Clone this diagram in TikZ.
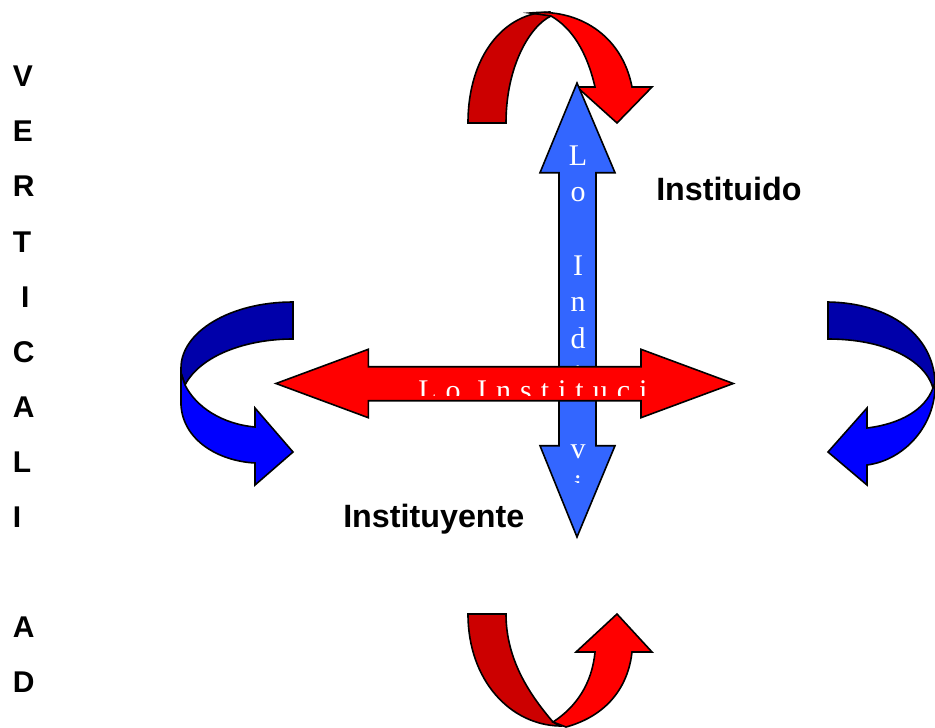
\documentclass[tikz,border=0pt]{standalone}
\usepackage{fontspec}
\setmainfont{Liberation Serif}
\setsansfont{Liberation Sans}
\newfontfamily\spacedserif[LetterSpace=30]{Liberation Serif}
\usepackage{tikz}

\definecolor{darkred}{HTML}{CC0000}
\definecolor{brightred}{HTML}{FF0000}
\definecolor{arrowblue}{HTML}{3366FF}
\definecolor{darkblue}{HTML}{0000AA}
\definecolor{brightblue}{HTML}{0000FF}

\begin{document}
\begin{tikzpicture}[x=0.75pt, y=-0.75pt,
    band/.style={draw=black, line width=1.2pt, line join=miter},
    letter/.style={anchor=base west, inner sep=0pt, font=\fontsize{22.5}{27}\sffamily\bfseries},
    caption/.style={anchor=base west, inner sep=0pt, font=\fontsize{24.2}{29}\sffamily\bfseries},
    inword/.style={anchor=base, inner sep=0pt, text=white, font=\fontsize{22.5}{27}\selectfont}]
    \useasboundingbox (0,0) rectangle (935,728);

    % Side word
    \foreach \ch/\k in {V/0,E/1,R/2,T/3,~I/4,C/5,A/6,L/7,I/8,A/10,D/11}
        \node[letter] (side\k) at (12.5, 86.7+55.1*\k) {\ch};

    % Top curved arrow
    \draw[band, fill=darkred] (468,123) .. controls (468,55) and (505,12) .. (550,12)
        -- (551,16) .. controls (530,26) and (506,66) .. (506,123) -- cycle;
    \draw[band, fill=brightred] (530,13) .. controls (578,8) and (622,35) .. (632,87)
        -- (652,87) -- (617,123) -- (577,87) -- (595,87)
        .. controls (587,52) and (572,28) .. (551,16) -- cycle;

    % Bottom curved arrow
    \draw[band, fill=darkred] (468,614) .. controls (468,680) and (510,725) .. (560,726)
        -- (553,722) .. controls (530,695) and (506,660) .. (506,614) -- cycle;
    \draw[band, fill=brightred] (553,722) -- (566,727) .. controls (606,716) and (628,688) .. (632,652)
        -- (652,652) -- (617,614) -- (576,652) -- (595,652)
        .. controls (592,684) and (576,707) .. (553,722) -- cycle;

    % Left curved arrow
    \draw[band, fill=darkblue] (293,302) .. controls (230,302) and (181,332) .. (181,368)
        -- (181,373) -- (185,385) .. controls (200,356) and (245,339) .. (293,339) -- cycle;
    \draw[band, fill=brightblue] (181,373) -- (181,405) .. controls (183,440) and (218,461) .. (255,463)
        -- (255,485) -- (293,452) -- (255,408) -- (255,427)
        .. controls (222,424) and (196,407) .. (185,385) -- cycle;

    % Right curved arrow
    \draw[band, fill=darkblue] (828,302) .. controls (890,303) and (933,335) .. (935,382)
        -- (933,388) .. controls (925,360) and (885,339) .. (828,339) -- cycle;
    \draw[band, fill=brightblue] (933,388) -- (935,386) .. controls (935,425) and (905,460) .. (867,465)
        -- (867,485) -- (828,452) -- (867,408) -- (867,428)
        .. controls (900,424) and (925,410) .. (933,388) -- cycle;

    % Vertical double arrow
    \draw[band, fill=arrowblue] (577,83) -- (615,172.7) -- (596,172.7) -- (596,445.7) -- (615,445.7)
        -- (577,537) -- (540,445.7) -- (559,445.7) -- (559,172.7) -- (540,172.7) -- cycle;
    \begin{scope}
        \clip (555,130) rectangle (600,482);
        \foreach \ch/\k in {L/0,o/1,I/3,n/4,d/5,i/6,v/8,i/9}
            \node[inword] (down\k) at (578, 165+36.67*\k) {\ch};
    \end{scope}

    % Horizontal double arrow
    \draw[band, fill=brightred] (276,383.5) -- (368.3,349.3) -- (368.3,366.7) -- (641,366.7) -- (641,349.3)
        -- (733.3,383.5) -- (641,417.7) -- (641,400.7) -- (368.3,400.7) -- (368.3,417.7) -- cycle;
    \begin{scope}
        \clip (400,370) rectangle (650,395);
        \node[inword, anchor=base west, font=\fontsize{22.5}{27}\spacedserif] (across) at (418,400) {Lo Instituci};
    \end{scope}

    % Captions
    \node[caption] (instituido) at (656,200) {Instituido};
    \node[caption] (instituyente) at (343,527) {Instituyente};
\end{tikzpicture}
\end{document}
